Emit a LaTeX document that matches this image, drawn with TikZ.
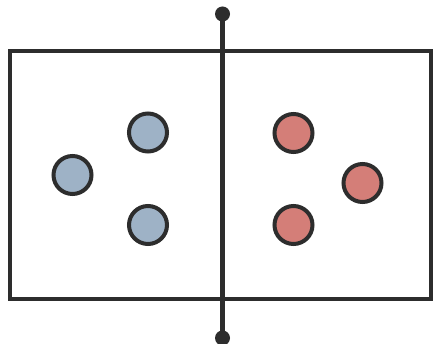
\documentclass[tikz,border=0pt]{standalone}
\definecolor{dotblue}{RGB}{158,178,198}
\definecolor{dotred}{RGB}{212,126,120}
\definecolor{ink}{RGB}{45,45,45}
\begin{document}
\begin{tikzpicture}[x=1pt,y=-1pt,
  frame/.style={draw=ink,line width=4pt},
  divider/.style={draw=ink,line width=4.2pt},
  enddot/.style={circle,fill=ink,minimum size=15pt,inner sep=0pt},
  bluedot/.style={circle,draw=ink,line width=4pt,fill=dotblue,minimum size=38pt,inner sep=0pt},
  reddot/.style={circle,draw=ink,line width=4pt,fill=dotred,minimum size=38pt,inner sep=0pt}]
\useasboundingbox (0,0) rectangle (433,344);
\fill[white] (0,0) rectangle (433,344);
\draw[frame] (9.5,51.5) rectangle (431,298.5);
\node[enddot] (top) at (222.5,14) {};
\node[enddot] (bot) at (222.5,338) {};
\draw[divider] (top.center) -- (bot.center);
\node[bluedot] (b1) at (148,132.5) {};
\node[bluedot] (b2) at (72.5,175) {};
\node[bluedot] (b3) at (148,225) {};
\node[reddot] (r1) at (293.5,133) {};
\node[reddot] (r2) at (362.5,183) {};
\node[reddot] (r3) at (293.5,225) {};
\end{tikzpicture}
\end{document}
